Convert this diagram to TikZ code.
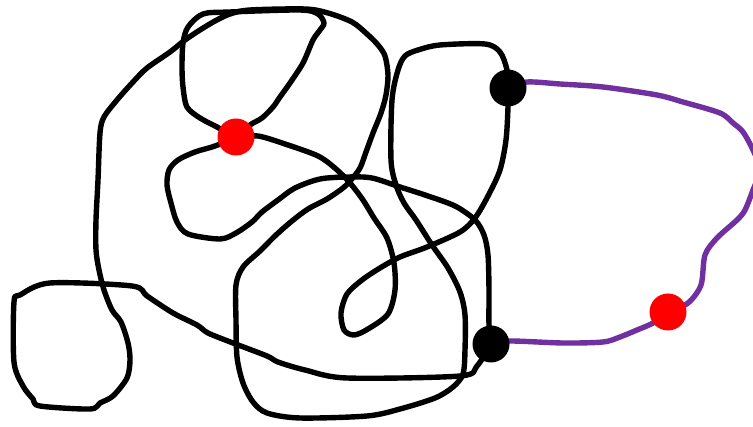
\documentclass[tikz,border=0pt]{standalone}
\begin{document}
\begin{tikzpicture}[x=1pt,y=-1pt,
  curve/.style={line width=5.4pt,line join=round,line cap=round},
  blackcurve/.style={curve,draw=black},
  purplecurve/.style={curve,draw=purpleline},
  blackdot/.style={circle,fill=black,minimum size=37pt,inner sep=0pt},
  reddot/.style={circle,fill=red,minimum size=37pt,inner sep=0pt}]
\definecolor{purpleline}{RGB}{112,48,160}
\useasboundingbox (0,0) rectangle (753,427);
\clip (0,0) rectangle (753,427);
\coordinate (a) at (508,88);
\coordinate (b) at (491,344);
\coordinate (r1) at (236,137);
\coordinate (r2) at (668,312);
% black path 1: A -> small loop -> R1 loop -> B
\draw[blackcurve] plot[smooth,tension=0.5] coordinates {
 (a) (508,107) (506,140) (500,170) (488,196) (475,218) (460,232) (427,247)
 (400,257) (380,268) (362,280) (347,294) (341,313) (344,330) (354,335)
 (368,329) (388,314) (395,290) (394,263) (387,238) (374,218) (363,200)
 (350,183) (336,169) (318,156) (285,144) (258,136) (r1) (217,127) (200,118)
 (187,107) (183,87) (182,67) (183,43) (188,27) (203,14) (230,12) (300,10)
 (318,14) (324,23) (320,30) (313,40) (303,63) (290,83) (280,97) (273,107)
 (262,118) (250,125) (r1) (215,146) (195,152) (178,160) (169,170) (167,185)
 (171,203) (177,222) (188,234) (220,239) (236,233) (252,222) (262,212)
 (278,200) (295,188) (320,179) (348,177) (372,178) (400,187) (425,195)
 (455,206) (475,220) (484,235) (488,255) (489,290) (489,325) (b)};
% black path 2: A -> up -> right loop -> outer curve -> square -> B
\draw[blackcurve] plot[smooth,tension=0.5] coordinates {
 (a) (507,70) (500,52) (485,44) (440,45) (418,50) (405,56) (398,70) (392,100)
 (391,160) (396,185) (404,203) (416,220) (432,245) (448,268) (460,292)
 (465,315) (465,350) (463,374) (453,387) (435,398) (400,409) (367,416)
 (300,418) (267,413) (253,402) (243,383) (237,357) (236,320) (236,285)
 (243,267) (260,251) (276,235) (292,221) (308,209) (327,199) (343,188)
 (351,180) (360,168) (366,152) (373,133) (381,113) (386,95) (388,75)
 (385,56) (378,45) (367,34) (352,22) (328,13) (305,9) (250,10) (230,14)
 (215,21) (200,30) (185,40) (170,52) (147,68) (133,82) (117,100) (104,117)
 (100,133) (98,180) (96,220) (96,250) (99,270) (104,290) (112,310) (121,322)
 (128,343) (130,360) (127,378) (113,396) (100,403) (90,409) (40,406)
 (33,399) (23,386) (14,362) (14,302) (20,295) (50,283) (132,286) (147,296)
 (173,313) (197,325) (208,333) (233,343) (267,356) (278,362) (305,370)
 (347,378) (460,376) (477,366) (b)};
% purple path: A -> right -> R2 -> B
\draw[purplecurve] plot[smooth,tension=0.5] coordinates {
 (a) (527,82) (560,84) (603,87) (657,95) (683,102) (720,113) (733,123)
 (743,132) (753,150) (760,170) (753,190) (745,210) (737,220) (717,238)
 (705,255) (701,285) (688,303) (r2) (653,323) (637,330) (620,337)
 (603,342) (563,343) (510,341) (b)};
\node[blackdot] (A) at (a) {};
\node[blackdot] (B) at (b) {};
\node[reddot] (R1) at (r1) {};
\node[reddot] (R2) at (r2) {};
\end{tikzpicture}
\end{document}
